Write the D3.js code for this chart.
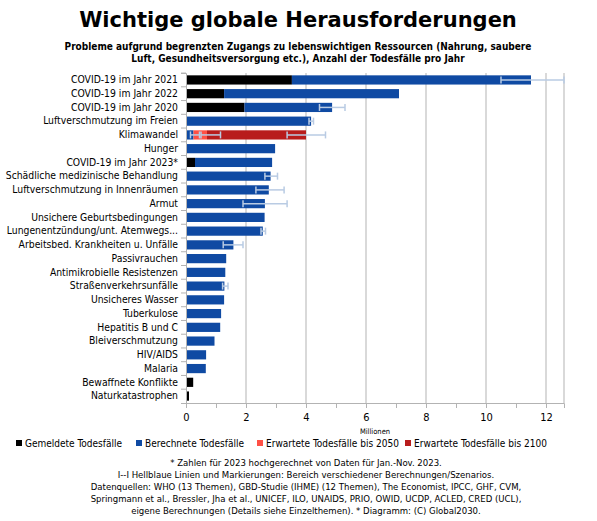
<!DOCTYPE html>
<html><head><meta charset="utf-8">
<script src="https://cdn.jsdelivr.net/npm/d3@7"></script>
<style>body{margin:0;background:#fff}text{font-family:"DejaVu Sans Condensed","DejaVu Sans",sans-serif}</style>
</head><body>
<svg id="chart" width="597" height="521"></svg>
<script>
// Daten (Millionen)
const categories = ["COVID-19 im Jahr 2021","COVID-19 im Jahr 2022","COVID-19 im Jahr 2020","Luftverschmutzung im Freien","Klimawandel","Hunger","COVID-19 im Jahr 2023*","Schädliche medizinische Behandlung","Luftverschmutzung in Innenräumen","Armut","Unsichere Geburtsbedingungen","Lungenentzündung/unt. Atemwegs...","Arbeitsbed. Krankheiten u. Unfälle","Passivrauchen","Antimikrobielle Resistenzen","Straßenverkehrsunfälle","Unsicheres Wasser","Tuberkulose","Hepatitis B und C","Bleiverschmutzung","HIV/AIDS","Malaria","Bewaffnete Konflikte","Naturkatastrophen"];
const reported = [3.53,1.27,1.95,0,0,0,0.3,0,0,0,0,0,0,0,0,0,0,0,0,0,0,0,0.24,0.1];
const calculated = [7.97,5.83,2.92,4.17,0.25,2.97,2.57,2.82,2.76,2.63,2.62,2.56,1.58,1.34,1.31,1.28,1.27,1.17,1.14,0.95,0.67,0.66,0,0];
const exp2050 = [0,0,0,0,0.45,0,0,0,0,0,0,0,0,0,0,0,0,0,0,0,0,0,0,0];
const exp2100 = [0,0,0,0,3.3,0,0,0,0,0,0,0,0,0,0,0,0,0,0,0,0,0,0,0];
// Fehlerbalken: [Kategorie-Index, von, bis]
const errorBars = [[0,10.5,12.6],[2,4.45,5.3],[3,4.1,4.25],[4,0.15,0.45],[4,0.5,1.15],[4,3.37,4.65],[7,2.63,3.05],[8,2.33,3.27],[9,1.9,3.37],[11,2.5,2.65],[12,1.24,1.9],[15,1.22,1.4]];
const xTicks = [0,2,4,6,8,10,12];
const seriesNames = ["Gemeldete Todesfälle","Berechnete Todesfälle","Erwartete Todesfälle bis 2050","Erwartete Todesfälle bis 2100"];
const seriesColors = ["#000000","#0f4aa3","#ff5045","#b81c1c"];

const svg = d3.select("#chart");
const x = d3.scaleLinear().domain([0,12.6]).range([186,564]);
const y = d3.scaleBand().domain(categories).range([73,403]).paddingInner(0.33).paddingOuter(0.17);

// Titel
svg.append("text").attr("x",298).attr("y",27).attr("text-anchor","middle")
  .attr("font-size",21).attr("font-weight","bold").style("font-family","DejaVu Sans").text("Wichtige globale Herausforderungen");
["Probleme aufgrund begrenzten Zugangs zu lebenswichtigen Ressourcen (Nahrung, saubere","Luft, Gesundheitsversorgung etc.), Anzahl der Todesfälle pro Jahr"]
  .forEach((t,i)=>svg.append("text").attr("x",298).attr("y",50+i*12).attr("text-anchor","middle")
  .attr("font-size",10).attr("font-weight","bold").text(t));

// Gitter
svg.append("g").selectAll("line").data(xTicks.slice(1)).enter().append("line")
  .attr("x1",d=>x(d)).attr("x2",d=>x(d)).attr("y1",73).attr("y2",403).attr("stroke","#b3b3b3");
svg.append("line").attr("x1",564).attr("x2",564).attr("y1",73).attr("y2",403).attr("stroke","#b3b3b3");

// Balken
const stacks = [reported,calculated,exp2050,exp2100];
categories.forEach((c,i)=>{
  let start = 0;
  stacks.forEach((s,k)=>{
    if (s[i]>0) {
      svg.append("rect").attr("x",x(start)).attr("y",y(c)).attr("width",x(start+s[i])-x(start))
        .attr("height",y.bandwidth()).attr("fill",seriesColors[k]);
      start += s[i];
    }
  });
});

// Fehlerbalken
const eb = svg.append("g").attr("stroke","#b9cbe3").attr("stroke-width",1.5);
errorBars.forEach(([i,lo,hi])=>{
  const cy = y(categories[i])+y.bandwidth()/2;
  eb.append("line").attr("x1",x(lo)).attr("x2",x(hi)).attr("y1",cy).attr("y2",cy);
  [lo,hi].forEach(v=>eb.append("line").attr("x1",x(v)).attr("x2",x(v)).attr("y1",cy-3.5).attr("y2",cy+3.5));
});

// Achsen
const yAxis = svg.append("g").attr("transform","translate(186,0)")
  .call(d3.axisLeft(y).tickSize(5).tickPadding(3));
yAxis.select(".domain").attr("stroke","#b3b3b3");
yAxis.selectAll(".tick line").attr("stroke","#b3b3b3").attr("transform",`translate(0,${-y.step()/2})`);
yAxis.selectAll("text").attr("font-size",10.3).attr("fill","#000").style("font-family","DejaVu Sans Condensed")
  .attr("textLength",function(){ const w=this.getComputedTextLength(); return w>176?176:null; })
  .attr("lengthAdjust","spacingAndGlyphs");

const xAxis = svg.append("g").attr("transform","translate(0,403)")
  .call(d3.axisBottom(x).tickValues(d3.range(0,13,1)).tickSize(5).tickFormat(d=>d%2===0?d:""));
xAxis.select(".domain").attr("stroke","#b3b3b3");
xAxis.selectAll(".tick line").attr("stroke","#b3b3b3");
xAxis.selectAll("text").attr("font-size",11).attr("fill","#000").attr("dy","0.9em");
svg.append("text").attr("x",375).attr("y",434).attr("text-anchor","middle").attr("font-size",7.5).text("Millionen");

// Legende
const legX = [16,136,257,405];
seriesNames.forEach((n,k)=>{
  svg.append("rect").attr("x",legX[k]).attr("y",440).attr("width",6).attr("height",6).attr("fill",seriesColors[k]);
  svg.append("text").attr("x",legX[k]+9).attr("y",447).attr("font-size",10).text(n);
});

// Fußnoten
["* Zahlen für 2023 hochgerechnet von Daten für Jan.-Nov. 2023.","I--I  Hellblaue Linien und Markierungen: Bereich verschiedener Berechnungen/Szenarios.","Datenquellen: WHO (13 Themen), GBD-Studie (IHME) (12 Themen), The Economist, IPCC, GHF, CVM,","Springmann et al., Bressler, Jha et al., UNICEF, ILO, UNAIDS, PRIO, OWID, UCDP, ACLED, CRED (UCL),","eigene Berechnungen (Details siehe Einzelthemen). * Diagramm: (C) Global2030."]
  .forEach((t,i)=>svg.append("text").attr("x",306).attr("y",466+i*12).attr("text-anchor","middle").attr("font-size",9.5).text(t));
</script>
</body></html>
